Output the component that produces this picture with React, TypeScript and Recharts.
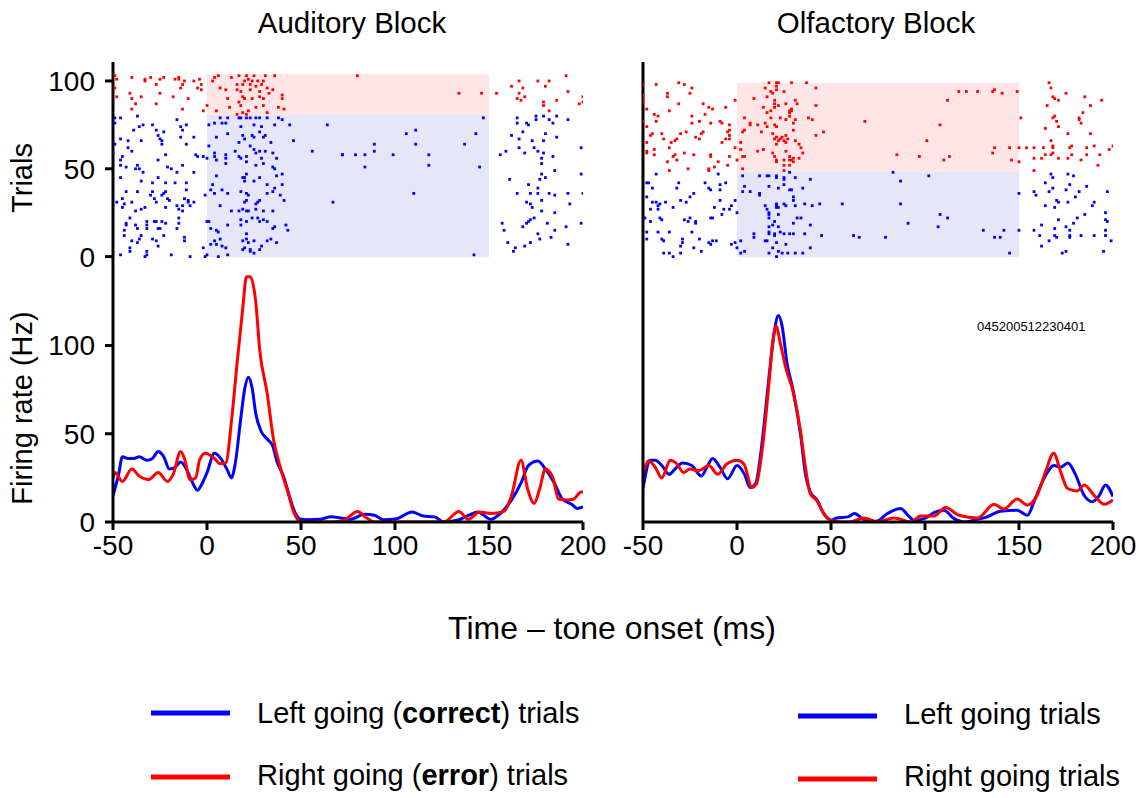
import React from "react";
import {
    ScatterChart,
    Scatter,
    LineChart,
    Line,
    XAxis,
    YAxis,
    ReferenceArea
} from "recharts";

const FONT = "'Liberation Sans', Arial, Helvetica, sans-serif";
const BLUE = "#0000ff";
const RED = "#ff0000";

const timeTicks = [-50, 0, 50, 100, 150, 200];
const trialTicks = [0, 50, 100];
const rateTicks = [0, 50, 100];

// raster spikes: [time (ms), trial]
const audRedSpikes: [number, number][] = [
    [-49, 103], [-48, 101], [-49, 96], [-48, 91], [-40, 102], [-41, 93], [-40, 90], [-40, 84], [-38, 87], [-35, 91],
    [-33, 101], [-33, 100], [-30, 102], [-27, 87], [-27, 98], [-25, 101], [-25, 93], [-23, 102], [-18, 91], [-17, 101],
    [-15, 102], [-15, 101], [-14, 96], [-13, 98], [-12, 100], [-13, 84], [-10, 90], [-7, 100], [-5, 96], [-4, 101],
    [-3, 98], [-3, 95], [-2, 83], [0, 86], [3, 100], [4, 102], [6, 103], [5, 83], [7, 96], [10, 95], [12, 85], [11, 90],
    [13, 102], [16, 98], [16, 95], [17, 88], [17, 103], [18, 94], [19, 98], [19, 91], [20, 100], [21, 103], [22, 101],
    [23, 98], [23, 95], [24, 100], [25, 103], [26, 97], [27, 100], [28, 91], [28, 94], [29, 98], [30, 100], [31, 103],
    [32, 96], [33, 93], [30, 90], [24, 90], [20, 90], [18, 86], [19, 82], [22, 83], [26, 85], [30, 86], [32, 82], [35, 95],
    [36, 103], [38, 85], [40, 92], [40, 90], [41, 84], [16, 81], [21, 81],
    [80, 103], [134, 93], [146, 93], [154, 93], [162, 97], [166, 100], [168, 96], [166, 93], [176, 100], [180, 97],
    [182, 100], [191, 103], [192, 94], [165, 90], [167, 89], [169, 91], [179, 88], [179, 86], [182, 83], [186, 89],
    [198, 87], [200, 91], [200, 88]
];

const audBlueSpikes: [number, number][] = [
    [-49, 79], [-46, 79], [-37, 80], [-49, 76], [-34, 75], [-36, 74], [-39, 72], [-29, 75], [-16, 78], [-14, 74], [-13, 72],
    [-11, 75], [1, 75], [4, 76], [7, 79], [8, 76], [11, 79], [10, 76], [17, 79], [18, 79], [21, 79], [23, 79], [26, 79],
    [28, 79], [32, 79], [38, 79], [40, 78], [36, 75], [44, 75], [64, 75], [18, 74], [25, 75], [29, 74],
    [-27, 72], [-26, 69], [-25, 67], [-24, 66], [-23, 71], [-24, 64], [-35, 66], [-42, 66], [-46, 67], [-49, 64], [-14, 68],
    [-7, 68], [-11, 64], [1, 63], [5, 68], [11, 70], [17, 65], [19, 69], [20, 67], [24, 69], [25, 68], [28, 71], [30, 68],
    [31, 69], [34, 65], [46, 66], [23, 63],
    [-42, 62], [-40, 60], [-45, 57], [-46, 55], [-46, 52], [-43, 51], [-37, 52], [-38, 50], [-34, 48], [-36, 50], [-26, 55],
    [-22, 58], [-21, 51], [-19, 50], [-16, 48], [-13, 52], [-6, 58], [-5, 57], [-2, 57], [0, 56], [4, 59], [4, 57], [5, 55],
    [10, 56], [10, 58], [10, 53], [15, 60], [17, 57], [18, 56], [21, 57], [21, 54], [25, 61], [26, 59], [28, 60], [29, 56],
    [30, 53], [31, 60], [35, 59], [37, 56], [26, 52], [35, 51], [36, 50], [56, 60], [72, 58], [-50, 59],
    [-46, 45], [-35, 43], [-29, 42], [-26, 45], [-22, 42], [-17, 42], [-11, 42], [-7, 48], [5, 46], [3, 41], [21, 47],
    [20, 45], [19, 45], [20, 43], [25, 43], [28, 45], [32, 41], [37, 46], [40, 47], [40, 41], [-43, 37], [-37, 37], [-29, 37],
    [-30, 35], [-24, 35], [-23, 36], [-22, 37], [-21, 33], [-28, 33], [-20, 32], [-11, 38], [-12, 33], [-10, 32], [-7, 31],
    [-10, 31], [-1, 35], [2, 38], [4, 36], [8, 38], [11, 36], [7, 29], [21, 36], [22, 35], [21, 32], [20, 31], [18, 37],
    [28, 32], [27, 31], [32, 36], [35, 37], [36, 39], [41, 32], [39, 35], [67, 31], [-48, 31], [-45, 33], [-45, 28],
    [-40, 31], [-44, 30],
    [-33, 28], [-35, 27], [-38, 26], [-27, 31], [-22, 28], [-16, 29], [-15, 27], [-13, 29], [-13, 26], [-9, 29], [13, 26],
    [17, 26], [19, 27], [21, 26], [22, 26], [26, 27], [26, 30], [30, 26], [24, 22], [27, 22], [30, 21], [35, 26], [18, 21],
    [21, 20], [18, 18], [32, 20], [28, 20], [42, 18], [36, 17], [35, 16], [43, 15], [-41, 22], [-43, 19], [-43, 18],
    [-38, 18], [-32, 20], [-32, 18], [-28, 20], [-27, 20], [-24, 20], [-22, 19], [-15, 22], [-15, 19], [-44, 15], [-44, 12],
    [-37, 16], [-32, 16], [-26, 16], [-25, 16], [-16, 16], [0, 20], [1, 20], [2, 16], [5, 15], [6, 14], [11, 18],
    [-40, 9], [-36, 10], [-37, 8], [-35, 12], [-41, 5], [-41, 3], [-46, 1], [-32, 3], [-32, 1], [-29, 10], [-33, 0],
    [-27, 9], [-26, 6], [-23, 12], [-19, 1], [-12, 11], [-12, 9], [-9, 0], [-2, 5], [-1, 0], [0, 1], [2, 7], [4, 9], [5, 7],
    [7, 10], [8, 6], [10, 5], [6, 0], [11, 1], [19, 9], [21, 13], [21, 10], [22, 8], [25, 9], [23, 4], [23, 3], [25, 2],
    [28, 4], [29, 6], [32, 9], [34, 10], [37, 8], [20, 5], [19, 4],
    [147, 79], [111, 72], [106, 70], [143, 70], [89, 64], [111, 64], [137, 64], [89, 60], [72, 58], [79, 58], [84, 58],
    [99, 58], [118, 58], [118, 52], [84, 51], [145, 51], [110, 36], [142, 1],
    [165, 79], [165, 76], [170, 76], [171, 75], [175, 80], [175, 78], [179, 80], [182, 78], [184, 76], [186, 80], [192, 78],
    [168, 71], [162, 69], [166, 67], [173, 66], [179, 66], [180, 70], [186, 68], [166, 62], [169, 59], [174, 62], [176, 60],
    [178, 56], [178, 53], [179, 59], [184, 57], [156, 58], [159, 60], [199, 62], [185, 49], [178, 47], [180, 45], [177, 44],
    [161, 44], [171, 41], [176, 39], [199, 47], [165, 36], [172, 36], [176, 36], [182, 36], [185, 35], [192, 36], [200, 36],
    [178, 32], [170, 31], [172, 30], [173, 28], [193, 30], [178, 26], [185, 25], [174, 22], [172, 21], [171, 20], [170, 19],
    [157, 19], [181, 19], [199, 19], [168, 17], [191, 17], [185, 15], [158, 15], [176, 13], [177, 10], [183, 11], [160, 8],
    [172, 8], [192, 7], [164, 5], [169, 6], [163, 3]
];

const olfRedSpikes: [number, number][] = [
    [-50, 98], [-43, 98], [-31, 99], [-28, 98], [-24, 96], [-50, 92], [-50, 90], [-50, 88], [-37, 93], [-37, 91], [-25, 93],
    [-31, 87], [-48, 84], [-36, 83], [-18, 87], [-15, 85], [-13, 84], [-6, 85], [-1, 89], [-44, 81], [-42, 80], [-43, 77],
    [-50, 77], [-24, 80], [-24, 76], [-20, 77], [-17, 81], [-14, 76], [-9, 77], [-8, 76], [-4, 75], [-48, 74], [-46, 69],
    [-45, 70], [-48, 65], [-40, 70], [-39, 67], [-35, 65], [-33, 66], [-32, 67], [-30, 70], [-27, 71], [-22, 68], [-20, 67],
    [-19, 70], [-18, 71], [-4, 72], [-5, 71], [-4, 69], [-4, 67], [-6, 67], [-8, 65], [-48, 60], [-48, 59], [-44, 61],
    [-44, 58], [-36, 62], [-37, 54], [-36, 49], [-34, 57], [-33, 58], [-32, 55], [-28, 59], [-23, 58], [-14, 58], [-14, 57],
    [-10, 54], [-12, 51], [-15, 49], [-15, 50], [-26, 50], [-4, 57], [-1, 62], [0, 55], [-5, 52],
    [2, 65], [2, 61], [3, 57], [4, 57], [4, 72], [3, 71], [3, 50], [4, 79], [7, 76], [7, 75], [9, 90], [11, 75], [11, 60],
    [14, 61], [13, 71], [14, 85], [15, 96], [16, 91], [16, 82], [15, 76], [16, 74], [17, 99], [18, 94], [19, 93], [20, 89],
    [20, 85], [21, 99], [21, 97], [22, 99], [21, 95], [20, 87], [22, 86], [18, 79], [19, 70], [20, 67], [21, 64], [21, 68],
    [22, 66], [23, 67], [24, 68], [25, 66], [26, 65], [26, 69], [19, 59], [20, 57], [21, 55], [21, 54], [25, 55], [26, 60],
    [28, 57], [28, 55], [30, 54], [28, 52], [29, 55], [30, 56], [25, 49], [25, 52], [27, 67], [25, 94], [26, 87], [29, 99],
    [29, 84], [29, 83], [30, 76], [31, 78], [32, 87], [31, 89], [30, 72], [31, 66], [33, 64], [34, 62], [35, 59], [33, 56],
    [28, 80], [28, 82], [28, 83], [26, 78], [23, 79], [21, 74], [20, 75], [18, 83], [37, 99], [42, 96], [42, 86], [38, 79],
    [40, 78], [46, 71], [42, 69], [68, 77],
    [118, 94], [122, 94], [128, 94], [136, 94], [137, 95], [141, 93], [149, 94], [112, 89], [108, 75], [101, 66], [85, 58],
    [97, 57], [110, 55], [113, 57], [136, 59], [137, 62], [145, 62], [146, 55], [150, 62], [150, 54], [151, 79], [154, 62],
    [158, 62], [163, 62], [158, 56], [162, 56], [158, 49], [166, 99], [167, 96], [168, 91], [169, 90], [171, 89], [175, 93],
    [165, 86], [185, 91], [188, 86], [194, 89], [184, 82], [169, 80], [168, 79], [170, 77], [171, 74], [182, 79], [182, 78],
    [183, 76], [164, 73], [176, 70], [188, 70], [167, 66], [168, 63], [168, 62], [168, 59], [167, 58], [164, 58], [171, 56],
    [176, 56], [177, 62], [178, 63], [178, 58], [183, 55], [186, 58], [186, 62], [190, 63], [193, 58], [198, 61], [200, 63],
    [192, 52]
];

const olfBlueSpikes: [number, number][] = [
    [-48, 42], [-47, 42], [-43, 47], [-45, 39], [-48, 34], [-45, 31], [-43, 31], [-42, 29], [-41, 30], [-46, 27], [-42, 27],
    [-38, 31], [-34, 28], [-32, 39], [-31, 42], [-30, 32], [-25, 34], [-23, 36], [-27, 31], [-25, 22], [-28, 21], [-26, 20],
    [-22, 20], [-22, 19], [-15, 39], [-17, 42], [-14, 38], [-10, 47], [-9, 41], [-9, 38], [-6, 42], [-9, 32], [-7, 27],
    [-12, 28], [-3, 29], [-1, 32], [0, 25], [-13, 22], [-14, 22], [-8, 24], [-4, 27], [-41, 22], [-40, 21], [-49, 22],
    [-46, 20], [-48, 14], [-48, 10], [-42, 14], [-36, 14], [-24, 14], [-40, 10], [-39, 9], [-39, 2], [-36, 2], [-34, 0],
    [-30, 2], [-29, 10], [-29, 8], [-30, 6], [-23, 5], [-20, 10], [-19, 3], [-15, 8], [-14, 7], [-13, 9], [-11, 9], [-3, 7],
    [-1, 8], [0, 5], [2, 9], [2, 2], [4, 3],
    [3, 46], [4, 40], [3, 37], [7, 37], [12, 46], [12, 36], [12, 35], [16, 46], [17, 40], [17, 46], [21, 46], [21, 45],
    [22, 39], [25, 45], [25, 44], [25, 41], [28, 48], [28, 38], [30, 34], [30, 32], [29, 38], [31, 45], [35, 39], [39, 44],
    [15, 29], [16, 27], [17, 25], [17, 24], [17, 22], [21, 30], [21, 29], [21, 28], [22, 28], [22, 24], [25, 30], [26, 29],
    [31, 29], [36, 30], [40, 29], [44, 30], [56, 30], [20, 20], [19, 18], [17, 17], [17, 14], [17, 13], [20, 13], [20, 12],
    [22, 17], [23, 14], [25, 13], [28, 13], [30, 13], [30, 19], [32, 22], [34, 22], [39, 18], [45, 12], [36, 13], [16, 9],
    [21, 8], [19, 5], [22, 3], [24, 2], [26, 7], [27, 2], [31, 2], [35, 2], [39, 5], [9, 13], [9, 11], [15, 9], [17, 2],
    [21, 0], [62, 12], [65, 11],
    [83, 48], [87, 43], [102, 46], [87, 30], [108, 24], [112, 22], [91, 19], [107, 17], [79, 11], [131, 15], [137, 11],
    [140, 11], [142, 15], [150, 15], [150, 36], [145, 2], [158, 37], [159, 35], [158, 15], [162, 18], [161, 12], [162, 6],
    [164, 29], [164, 42], [166, 37], [167, 47], [168, 45], [168, 39], [169, 28], [170, 32], [171, 31], [171, 21], [169, 16],
    [169, 12], [170, 11], [166, 9], [173, 2], [175, 3], [175, 38], [176, 47], [177, 41], [179, 46], [180, 34], [182, 37],
    [176, 31], [175, 17], [177, 15], [177, 12], [177, 11], [179, 19], [181, 22], [183, 12], [185, 24], [186, 40], [189, 29],
    [190, 31], [190, 12], [196, 25], [196, 21], [197, 20], [197, 37], [196, 15], [196, 12], [199, 9], [195, 3]
];

// firing rate: [time (ms), Hz]
const audBlueRate: [number, number][] = [
    [-50, 15], [-47, 27], [-45, 37], [-42, 36], [-39, 36], [-36, 37], [-32, 35], [-29, 36], [-26, 40], [-23, 37], [-20, 30],
    [-17, 31], [-14, 34], [-11, 30], [-8, 23], [-5, 18], [-3, 21], [0, 28], [4, 39], [8, 35], [11, 29], [13, 25], [15, 33],
    [18, 59], [20, 75], [22, 82], [24, 76], [26, 61], [29, 51], [32, 47], [35, 43], [37, 35], [41, 25], [44, 14], [47, 5],
    [50, 1.5], [53, 1.3], [60, 1.5], [66, 3], [71, 2.3], [76, 1.5], [84, 4.4], [89, 3.8], [94, 1.3], [101, 1.9], [109, 5.7],
    [115, 3.4], [121, 2.9], [126, 0], [133, 1], [140, 4.2], [144, 5.7], [151, 1.5], [156, 4.8], [162, 12.5], [167, 22],
    [171, 32], [176, 34.5], [180, 30], [185, 21.5], [189, 13], [194, 10], [197, 7.7], [200, 8.6]
];

const audRedRate: [number, number][] = [
    [-50, 25], [-49, 28], [-45, 23], [-40, 30], [-36, 26], [-31, 24], [-26, 28], [-21, 23], [-18, 27], [-14, 40], [-12, 36],
    [-9, 24], [-6, 25], [-4, 35], [-1, 39], [4, 36], [7, 33], [10, 33.5], [13, 57], [16, 90], [19, 121], [21, 139], [23, 139],
    [26, 124], [28, 98], [32, 73], [35.5, 46], [39, 31], [43, 17], [46, 6], [50, 0], [67, 0], [73, 1], [80, 6], [85, 2.3],
    [89, 0], [126, 0], [134, 6], [139, 1.5], [145, 5.7], [151, 4.8], [158, 6], [162, 15], [167, 35], [170.5, 19], [174, 10.5],
    [177, 19], [180, 30], [184, 25], [187, 13], [192, 12.5], [195, 13], [199, 17], [200, 17]
];

const olfBlueRate: [number, number][] = [
    [-50, 19], [-46, 35], [-43.5, 35], [-40, 32], [-36, 27], [-33, 30], [-29, 33.5], [-24, 32], [-19, 26], [-16, 31],
    [-13, 36], [-9, 31], [-5, 24.5], [0, 32], [4, 27], [7, 19.5], [10, 22], [13, 42], [17, 82], [19.5, 105], [22, 117],
    [24, 111], [26.6, 90], [30, 74], [34, 48], [36.4, 27], [39, 17], [42.6, 12.5], [46, 5], [50, 1], [53, 2.3], [59, 2.9],
    [62.5, 4.8], [67.5, 1.5], [74, 0.4], [80, 4.8], [87, 7.7], [91, 3.8], [94, 1], [99.5, 1.9], [105, 5.4], [110, 6.7],
    [115.5, 1.9], [121, 0], [126, 1], [133, 2.9], [140, 6.1], [149, 6.7], [154.5, 3.8], [158, 11.5], [162.5, 23],
    [168.7, 32], [172, 31], [176, 33.5], [180, 27], [184.7, 15], [189, 11.5], [192.7, 15], [196, 21], [200, 14.4]
];

const olfRedRate: [number, number][] = [
    [-50, 27], [-47, 34.5], [-43.5, 31], [-40, 25], [-35.5, 35], [-32, 33], [-28.4, 28], [-25, 30], [-20.4, 29], [-15, 32],
    [-10.3, 27], [-5.3, 33], [0, 35], [3.6, 33], [8, 19.5], [10.3, 21.5], [13.3, 40], [17, 78.5], [18.7, 99], [20.8, 111],
    [23, 101.5], [25.8, 88], [30, 73], [33.7, 52], [36.4, 31], [39, 16], [42.6, 12], [46, 5], [50, 1], [55, 0], [60, 0],
    [67.5, 2.3], [74.6, 0], [83.5, 2.3], [92.4, 0], [97.7, 3.4], [104.8, 3.4], [111, 8.2], [118, 3.8], [128, 2.3],
    [136.8, 10], [142, 7.3], [149, 13], [154.5, 9.6], [160, 16], [164.3, 29], [168.4, 39], [172.3, 28], [175.8, 19],
    [181, 17.6], [184.7, 21], [190, 15], [195.4, 10], [200, 12.5]
];

// shaded trial bands: [blue top / red bottom, red top]
const audBands = [80.6, 103.8];
const olfBands = [48.6, 99];

const toSpikes = (arr: [number, number][]) => arr.map(([t, trial]) => ({ t, trial }));
const toRate = (arr: [number, number][]) => arr.map(([t, hz]) => ({ t, hz }));

const square = (color: string) => (p: any) => (
    <rect x={p.cx - 1.4} y={p.cy - 1.4} width={2.8} height={2.8} fill={color} />
);

const axisLine = { stroke: "#000", strokeWidth: 3 };
const tickStyle = { fontSize: 28, fill: "#000", fontFamily: FONT };

interface PanelProps {
    left: number;
    red: [number, number][];
    blue: [number, number][];
    redRate: [number, number][];
    blueRate: [number, number][];
    bands: number[];
    labels: boolean;
}

function Panel({ left, red, blue, redRate, blueRate, bands, labels }: PanelProps) {
    return (
        <>
            <div style={{ position: "absolute", left, top: 0 }}>
                <ScatterChart width={620} height={284} margin={{ top: 62, right: 37, bottom: 20, left: 0 }}>
                    <XAxis type="number" dataKey="t" domain={[-50, 200]} hide allowDataOverflow />
                    <YAxis
                        type="number"
                        dataKey="trial"
                        domain={[-4.2, 110.8]}
                        allowDataOverflow
                        ticks={trialTicks}
                        interval={0}
                        width={113}
                        axisLine={axisLine}
                        tickLine={axisLine}
                        tickSize={8}
                        tickMargin={10}
                        tick={labels ? tickStyle : false}
                    />
                    <ReferenceArea x1={0} x2={150} y1={-0.4} y2={bands[0]} fill="#e6e6fa" fillOpacity={1} stroke="none" />
                    <ReferenceArea x1={0} x2={150} y1={bands[0]} y2={bands[1]} fill="#ffe5e5" fillOpacity={1} stroke="none" />
                    <Scatter data={toSpikes(blue)} fill={BLUE} shape={square(BLUE)} isAnimationActive={false} />
                    <Scatter data={toSpikes(red)} fill={RED} shape={square(RED)} isAnimationActive={false} />
                </ScatterChart>
            </div>
            <div style={{ position: "absolute", left, top: 264 }}>
                <LineChart width={620} height={318} margin={{ top: 0, right: 37, bottom: 0, left: 0 }}>
                    <XAxis
                        type="number"
                        dataKey="t"
                        domain={[-50, 200]}
                        allowDataOverflow
                        ticks={timeTicks}
                        interval={0}
                        height={60}
                        axisLine={axisLine}
                        tickLine={axisLine}
                        tickSize={8}
                        tickMargin={5}
                        tick={tickStyle}
                    />
                    <YAxis
                        type="number"
                        domain={[0, 146.2]}
                        allowDataOverflow
                        ticks={rateTicks}
                        interval={0}
                        width={113}
                        axisLine={axisLine}
                        tickLine={axisLine}
                        tickSize={8}
                        tickMargin={10}
                        tick={labels ? tickStyle : false}
                    />
                    <Line data={toRate(blueRate)} dataKey="hz" type="monotone" stroke={BLUE} strokeWidth={3} dot={false} isAnimationActive={false} />
                    <Line data={toRate(redRate)} dataKey="hz" type="monotone" stroke={RED} strokeWidth={3} dot={false} isAnimationActive={false} />
                </LineChart>
            </div>
        </>
    );
}

export default function App() {
    return (
        <div style={{ position: "absolute", left: 0, top: 0, width: 1139, height: 798, overflow: "hidden", background: "#fff", fontFamily: FONT }}>
            <Panel left={0} red={audRedSpikes} blue={audBlueSpikes} redRate={audRedRate} blueRate={audBlueRate} bands={audBands} labels />
            <Panel left={530} red={olfRedSpikes} blue={olfBlueSpikes} redRate={olfRedRate} blueRate={olfBlueRate} bands={olfBands} labels={false} />
            <svg width={1139} height={798} style={{ position: "absolute", left: 0, top: 0, pointerEvents: "none" }} fontFamily={FONT}>
                <text x={352} y={33} textAnchor="middle" fontSize={29.5}>Auditory Block</text>
                <text x={876} y={33} textAnchor="middle" fontSize={29.5}>Olfactory Block</text>
                <text x={22} y={178} textAnchor="middle" dominantBaseline="central" fontSize={29} transform="rotate(-90 22 178)">Trials</text>
                <text x={22} y={408} textAnchor="middle" dominantBaseline="central" fontSize={29} transform="rotate(-90 22 408)">Firing rate (Hz)</text>
                <text x={612} y={628} textAnchor="middle" dominantBaseline="central" fontSize={32}>Time – tone onset (ms)</text>
                <text x={977} y={326} dominantBaseline="central" fontSize={13}>045200512230401</text>

                <line x1={151} x2={230} y1={713} y2={713} stroke={BLUE} strokeWidth={5} />
                <line x1={151} x2={230} y1={777} y2={777} stroke={RED} strokeWidth={5} />
                <text x={257} y={713} dominantBaseline="central" fontSize={29}>
                    Left going (<tspan fontWeight="bold">correct</tspan>) trials
                </text>
                <text x={257} y={775} dominantBaseline="central" fontSize={29}>
                    Right going (<tspan fontWeight="bold">error</tspan>) trials
                </text>

                <line x1={798} x2={877} y1={716} y2={716} stroke={BLUE} strokeWidth={5} />
                <line x1={798} x2={877} y1={779} y2={779} stroke={RED} strokeWidth={5} />
                <text x={904} y={714} dominantBaseline="central" fontSize={29}>Left going trials</text>
                <text x={904} y={776} dominantBaseline="central" fontSize={29}>Right going trials</text>
            </svg>
        </div>
    );
}
